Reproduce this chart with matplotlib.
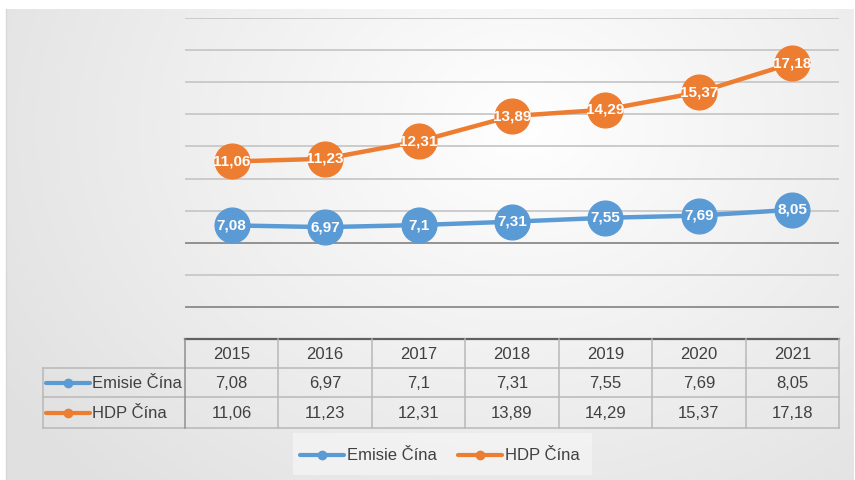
import numpy as np
import matplotlib
matplotlib.use("Agg")
import matplotlib.pyplot as plt
from matplotlib.lines import Line2D

years = ["2015", "2016", "2017", "2018", "2019", "2020", "2021"]
emise = [7.08, 6.97, 7.1, 7.31, 7.55, 7.69, 8.05]
hdp = [11.06, 11.23, 12.31, 13.89, 14.29, 15.37, 17.18]
series_names = ["Emisie Čína", "HDP Čína"]
yticks = list(range(0, 22, 2))

BLUE = "#5B9BD5"
ORANGE = "#ED7D31"
FONT = ["Liberation Sans Narrow", "Liberation Sans", "DejaVu Sans"]
plt.rcParams["font.family"] = FONT

def fmt(v):
    s = f"{v:.2f}".rstrip("0").rstrip(".")
    return s.replace(".", ",")

W, H = 855, 480
fig = plt.figure(figsize=(W / 100, H / 100), dpi=100)
fig.patch.set_facecolor("white")

# background gradient
bg = fig.add_axes([0, 0, 1, 1])
bg.set_xlim(0, W); bg.set_ylim(H, 0); bg.axis("off")
yy, xx = np.mgrid[0:H, 0:W]
d = np.sqrt(((xx - 520) / 520.0) ** 2 + ((yy - 120) / 420.0) ** 2)
g = np.clip(1.0 - 0.10 * d, 0.88, 1.0)
img = np.dstack([g, g, g])
bg.imshow(img, extent=(6, W - 2, H, 9), aspect="auto", zorder=0)
bg.plot([6, 6], [9, H], color="#d8d8d8", lw=1, zorder=1)

# table geometry (pixels)
x0, x_lab = 185, 43
cw = (839 - 185) / len(years)
y_top, y_h, y_r1, y_r2 = 339, 368, 397, 428
lc = "#b8b8b8"
# horizontal lines
bg.plot([x0, x0 + cw * len(years)], [y_top, y_top], color="#606060", lw=1.6, zorder=2)
for yv in (y_h, y_r1, y_r2):
    bg.plot([x_lab, x0 + cw * len(years)], [yv, yv], color=lc, lw=1.1, zorder=2)
# vertical lines
bg.plot([x_lab, x_lab], [y_h, y_r2], color=lc, lw=1.1, zorder=2)
for i in range(len(years) + 1):
    bg.plot([x0 + i * cw] * 2, [y_top, y_r2], color=lc if i else "#909090", lw=1.1, zorder=2)

tc = "#404040"
fs = 12
for i, yr in enumerate(years):
    cx = x0 + (i + 0.5) * cw
    bg.text(cx, (y_top + y_h) / 2 + 1, yr, ha="center", va="center", fontsize=fs, color=tc)
    bg.text(cx, (y_h + y_r1) / 2 + 1, fmt(emise[i]), ha="center", va="center", fontsize=fs, color=tc)
    bg.text(cx, (y_r1 + y_r2) / 2 + 1, fmt(hdp[i]), ha="center", va="center", fontsize=fs, color=tc)

for (yc, name, col) in [((y_h + y_r1) / 2, series_names[0], BLUE), ((y_r1 + y_r2) / 2, series_names[1], ORANGE)]:
    bg.plot([46, 90], [yc, yc], color=col, lw=3, solid_capstyle="round", zorder=3)
    bg.plot([68], [yc], "o", color=col, ms=6, zorder=3)
    bg.text(92, yc + 1, name, ha="left", va="center", fontsize=fs, color=tc)

# legend
bg.add_patch(plt.Rectangle((293, 433), 299, 42, facecolor="#f4f4f4", edgecolor="none", zorder=1, alpha=0.8))
ly = 455
for (lx, name, col) in [(300, series_names[0], BLUE), (458, series_names[1], ORANGE)]:
    bg.plot([lx, lx + 44], [ly, ly], color=col, lw=3, solid_capstyle="round", zorder=3)
    bg.plot([lx + 22], [ly], "o", color=col, ms=6, zorder=3)
    bg.text(lx + 47, ly + 1, name, ha="left", va="center", fontsize=fs, color=tc)

# main chart axes
ax = fig.add_axes([185 / W, (H - 339) / H, (839 - 185) / W, (339 - 18) / H])
ax.patch.set_alpha(0)
ax.set_xlim(-0.5, len(years) - 0.5)
ax.set_ylim(0, 20)
for s in ax.spines.values():
    s.set_visible(False)
ax.set_xticks([]); ax.set_yticks([])
for t in yticks[1:]:
    c = "#8a8a8a" if t in (2, 6) else "#c8c8c8"
    ax.axhline(t, color=c, lw=1.3, zorder=1)

x = np.arange(len(years))
for vals, col in [(emise, BLUE), (hdp, ORANGE)]:
    ax.plot(x, vals, color=col, lw=3.2, zorder=3, solid_capstyle="round")
    ax.plot(x, vals, "o", color=col, ms=25, mec=col, zorder=4)
    for xi, v in zip(x, vals):
        ax.text(xi, v, fmt(v), ha="center", va="center", fontsize=11,
                fontweight="bold", color="white", zorder=5)

fig.savefig("out.png", dpi=100)
